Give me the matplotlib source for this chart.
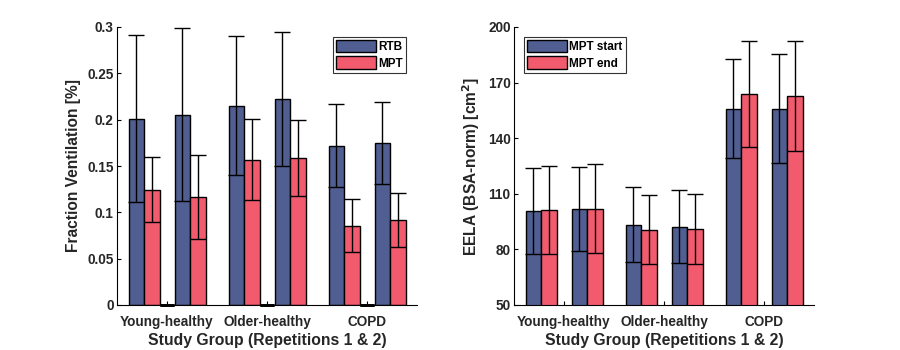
import matplotlib
matplotlib.use("Agg")
import matplotlib.pyplot as plt
import numpy as np

plt.rcParams['font.family'] = ['Liberation Sans', 'DejaVu Sans']
plt.rcParams['font.weight'] = 'bold'

categories = ["Young-healthy", "Older-healthy", "COPD"]

# Left panel: fraction ventilation, repetition 1 and 2
rtb_rep1 = [0.201, 0.215, 0.172]
rtb_rep1_err = [0.090, 0.075, 0.045]
mpt_rep1 = [0.1245, 0.157, 0.0856]
mpt_rep1_err = [0.0353, 0.0434, 0.0286]
rtb_rep2 = [0.2054, 0.2227, 0.1751]
rtb_rep2_err = [0.0935, 0.0723, 0.0443]
mpt_rep2 = [0.1169, 0.159, 0.0914]
mpt_rep2_err = [0.0453, 0.041, 0.0291]

# Right panel: EELA
start_rep1 = [100.9, 93.3, 155.9]
start_rep1_err = [23.2, 20.2, 26.6]
end_rep1 = [101.4, 90.6, 164.0]
end_rep1_err = [23.7, 18.6, 28.6]
start_rep2 = [102.0, 92.3, 155.9]
start_rep2_err = [22.6, 19.5, 29.5]
end_rep2 = [102.0, 91.2, 162.9]
end_rep2_err = [24.0, 18.9, 29.6]

BLUE = "#505E91"
RED = "#F25B6E"
TXT = "#262626"

fig = plt.figure(figsize=(9, 3.5), dpi=100)
ax1 = fig.add_axes([117/900, 45/350, 300/900, 278/350])
ax2 = fig.add_axes([514/900, 45/350, 300/900, 278/350])

x = np.arange(1, len(categories) + 1)
w = 0.155
off = 0.23
ekw = dict(fmt='none', ecolor='black', elinewidth=1.0, capsize=5.5, capthick=1.0)
bkw = dict(width=w, edgecolor='black', linewidth=1.0)


def draw(ax, a1, a1e, b1, b1e, a2, a2e, b2, b2e, labels, zero_marks):
    for (a, ae, b, be, sgn) in [(a1, a1e, b1, b1e, -1), (a2, a2e, b2, b2e, 1)]:
        xa = x + sgn * off - w / 2
        xb = x + sgn * off + w / 2
        ax.bar(xa, a, color=BLUE, **bkw, zorder=2)
        ax.bar(xb, b, color=RED, **bkw, zorder=2)
        ax.errorbar(xa, a, yerr=ae, zorder=3, **ekw)
        ax.errorbar(xb, b, yerr=be, zorder=3, **ekw)
        if sgn == -1:
            ax.bar(0, 0, color=BLUE, **bkw, label=labels[0])
            ax.bar(0, 0, color=RED, **bkw, label=labels[1])
    if zero_marks:
        ax.errorbar(x, np.zeros(len(x)), yerr=np.zeros(len(x)), zorder=3,
                    fmt='none', ecolor='black', elinewidth=1.0, capsize=5.0, capthick=2.0,
                    clip_on=False)
    ax.set_xlim(0.5, 3.5)
    ax.set_xticks(x)
    ax.set_xticklabels(categories, fontsize=9.8, fontweight='bold')
    ax.spines['top'].set_visible(False)
    ax.spines['right'].set_visible(False)
    ax.tick_params(direction='in', length=3, width=0.8, labelsize=9.8, pad=2.5,
                   labelcolor=TXT)
    ax.tick_params(axis='x', pad=7)
    ax.set_xlabel("Study Group (Repetitions 1 & 2)", fontsize=11.3, fontweight='bold',
                  color=TXT, labelpad=3)
    for t in ax.get_yticklabels():
        t.set_fontweight('bold')


def legend(ax, loc, anchor):
    leg = ax.legend(loc=loc, bbox_to_anchor=anchor, fontsize=8.5,
                    frameon=True, fancybox=False, edgecolor='black', handlelength=3.4,
                    handleheight=1.25, borderpad=0.25, labelspacing=0.3, handletextpad=0.2,
                    borderaxespad=0)
    leg.get_frame().set_linewidth(0.8)
    for t in leg.get_texts():
        t.set_fontweight('bold')
    return leg


draw(ax1, rtb_rep1, rtb_rep1_err, mpt_rep1, mpt_rep1_err,
     rtb_rep2, rtb_rep2_err, mpt_rep2, mpt_rep2_err, ["RTB", "MPT"], True)
ax1.set_ylim(0, 0.3)
ax1.set_yticks([0, 0.05, 0.1, 0.15, 0.2, 0.25, 0.3])
ax1.set_yticklabels(["0", "0.05", "0.1", "0.15", "0.2", "0.25", "0.3"], fontweight='bold')
ax1.set_ylabel("Fraction Ventilation [%]", fontsize=11.2, fontweight='bold',
               color=TXT, labelpad=4)
legend(ax1, 'upper right', (0.963, 0.965))

draw(ax2, start_rep1, start_rep1_err, end_rep1, end_rep1_err,
     start_rep2, start_rep2_err, end_rep2, end_rep2_err, ["MPT start", "MPT end"], False)
ax2.set_ylim(50, 200)
ax2.set_yticks([50, 80, 110, 140, 170, 200])
ax2.set_ylabel("EELA (BSA-norm) [cm$^\\mathbf{2}$]", fontsize=11.2, fontweight='bold',
               color=TXT, labelpad=4)
legend(ax2, 'upper left', (0.033, 0.965))

fig.savefig("out.png", dpi=100)
